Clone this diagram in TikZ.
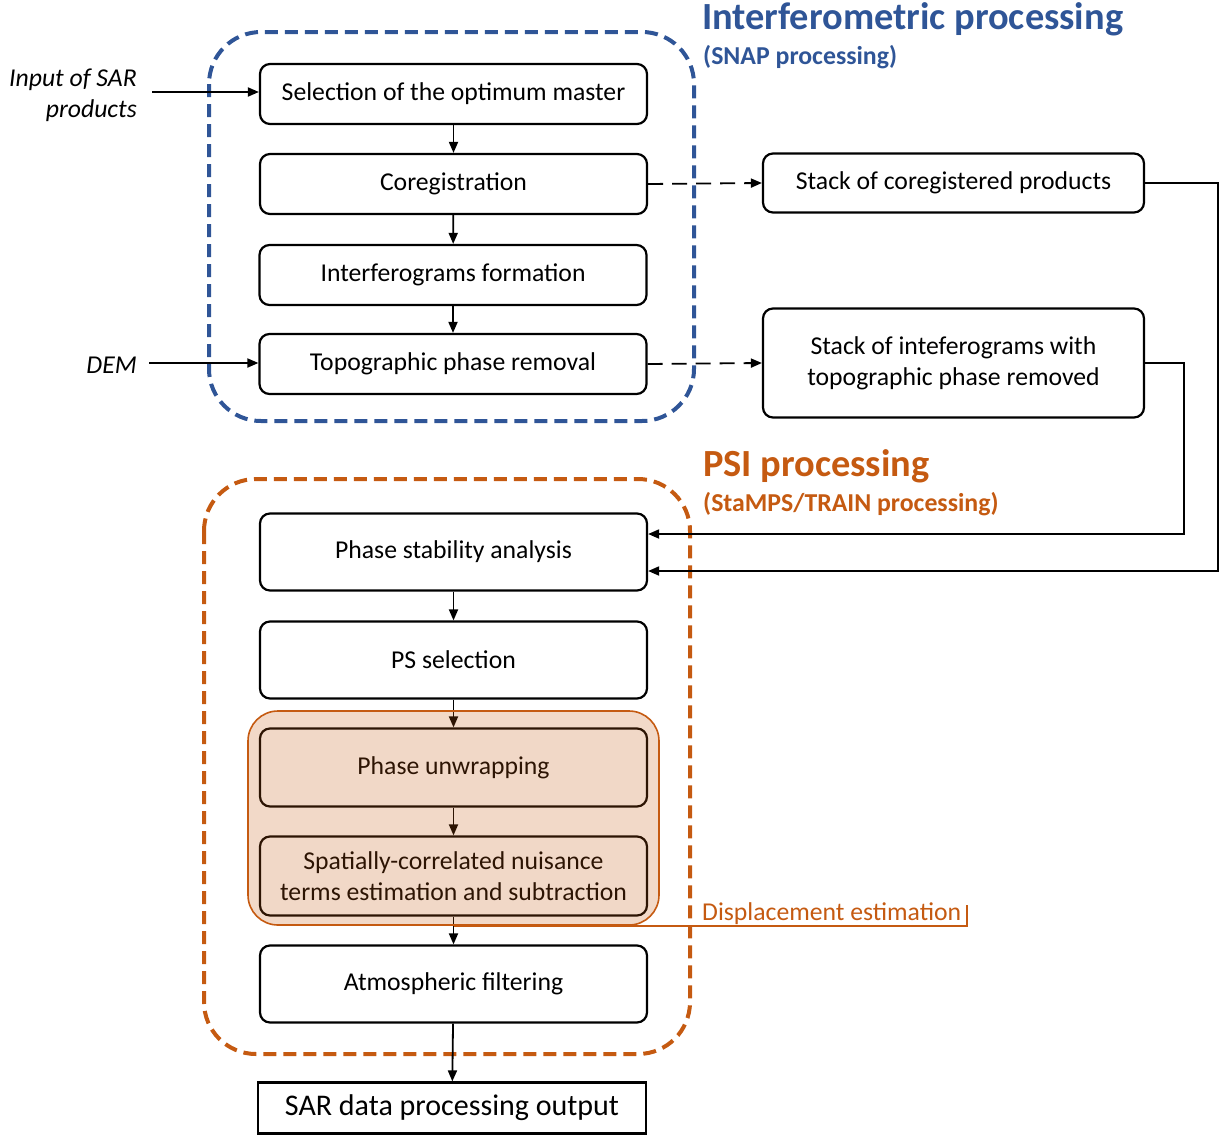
\documentclass[tikz,border=0pt]{standalone}
\usepackage{fontspec}
\setmainfont{Carlito}
\usetikzlibrary{arrows.meta}
\definecolor{snapblue}{HTML}{2F5597}
\definecolor{psiorange}{HTML}{C55A11}
\tikzset{
  stepbox/.style={draw=black, line width=2.2pt, rounded corners=10pt, fill=white,
    minimum width=387pt, minimum height=60pt, inner sep=0pt, align=center,
    font=\fontsize{25.7}{31}\selectfont},
  sidebox/.style={stepbox, minimum width=381pt},
  arr/.style={line width=1.8pt, -{Triangle[length=11pt,width=9pt]}},
  darr/.style={arr, dash pattern=on 15pt off 9pt},
  grouprule/.style={line width=4pt, rounded corners=52pt, dash pattern=on 13pt off 7pt},
  title/.style={anchor=west, inner sep=0pt, font=\bfseries\fontsize{38.4}{42}\selectfont},
  subtitle/.style={anchor=west, inner sep=0pt, font=\bfseries\fontsize{25.8}{30}\selectfont},
  sidelabel/.style={anchor=east, inner sep=0pt, align=right, font=\itshape\fontsize{25.7}{31}\selectfont}
}
\begin{document}
\begin{tikzpicture}[x=1pt, y=-1pt]
\useasboundingbox (0,0) rectangle (1223,1135);

% group frames
\draw[grouprule, snapblue] (209,32) rectangle (694,421);
\draw[grouprule, psiorange] (204,479) rectangle (690,1054);

% group titles
\node[title, text=snapblue] (t1) at (702,19) {Interferometric processing};
\node[subtitle, text=snapblue] (t2) at (703,57) {(SNAP processing)};
\node[title, text=psiorange] (t3) at (703,466) {PSI processing};
\node[subtitle, text=psiorange] (t4) at (703,504) {(StaMPS/TRAIN processing)};

% interferometric chain
\node[stepbox] (b1) at (453.5,94) {Selection of the optimum master};
\node[stepbox] (b2) at (453.5,184) {Coregistration};
\node[stepbox] (b3) at (453,275) {Interferograms formation};
\node[stepbox] (b4) at (453,364) {Topographic phase removal};

% intermediate products
\node[sidebox, minimum height=59pt] (s1) at (953.5,183) {Stack of coregistered products};
\node[sidebox, minimum height=109pt] (s2) at (953.5,363) {Stack of inteferograms with\\topographic phase removed};

% PSI chain
\node[stepbox, minimum height=77pt] (p1) at (453.5,552) {Phase stability analysis};
\node[stepbox, minimum height=77pt] (p2) at (453.5,660) {PS selection};
\node[stepbox, minimum height=78pt] (p3) at (453.5,767.5) {Phase unwrapping};
\node[stepbox, minimum height=79pt] (p4) at (453.5,876) {Spatially-correlated nuisance\\terms estimation and subtraction};
\node[stepbox, minimum height=77pt] (p5) at (453.5,984) {Atmospheric filtering};
\node[stepbox, rounded corners=0pt, minimum width=388pt, minimum height=51pt,
      font=\fontsize{30}{34}\selectfont] (out) at (452,1108) {SAR data processing output};

% inputs
\node[sidelabel] (insar) at (137,95) {Input of SAR\\products};
\node[sidelabel] (dem) at (137,365) {DEM};
\coordinate (insarend) at (152,92);
\coordinate (demend) at (149,363);
\draw[arr] (insarend) -- (insarend -| b1.west);
\draw[arr] (demend) -- (demend -| b4.west);

% flow arrows
\draw[arr] (b1) -- (b2);
\draw[arr] (b2) -- (b3);
\draw[arr] (b3) -- (b4);
\draw[darr] (b2.east) -- (s1.west);
\draw[darr] (b4.east) -- (s2.west);
\draw[arr] (s2.east) -- ++(39,0) |- ([yshift=18pt]p1.east);
\draw[arr] (s1.east) -- ++(73,0) |- ([yshift=-19pt]p1.east);
\draw[arr] (p1) -- (p2);
\draw[arr] (p2) -- (p3);
\draw[arr] (p3) -- (p4);
\draw[arr] (p4) -- (p5);
\draw[arr] (p5) -- (out);

% displacement estimation block (tinted overlay)
\node[draw=psiorange, line width=1.6pt, rounded corners=30pt, fill=psiorange, fill opacity=0.23,
      minimum width=411pt, minimum height=214pt, inner sep=0pt] (grp) at (453.5,818) {};
\coordinate (tick) at (967,905);
\draw[psiorange, line width=1.6pt] (grp.south) -| (tick);
\node[anchor=south west, inner sep=0pt, text=psiorange, font=\fontsize{25.7}{29}\selectfont]
  (disp) at (702,925) {Displacement estimation};
\end{tikzpicture}
\end{document}
